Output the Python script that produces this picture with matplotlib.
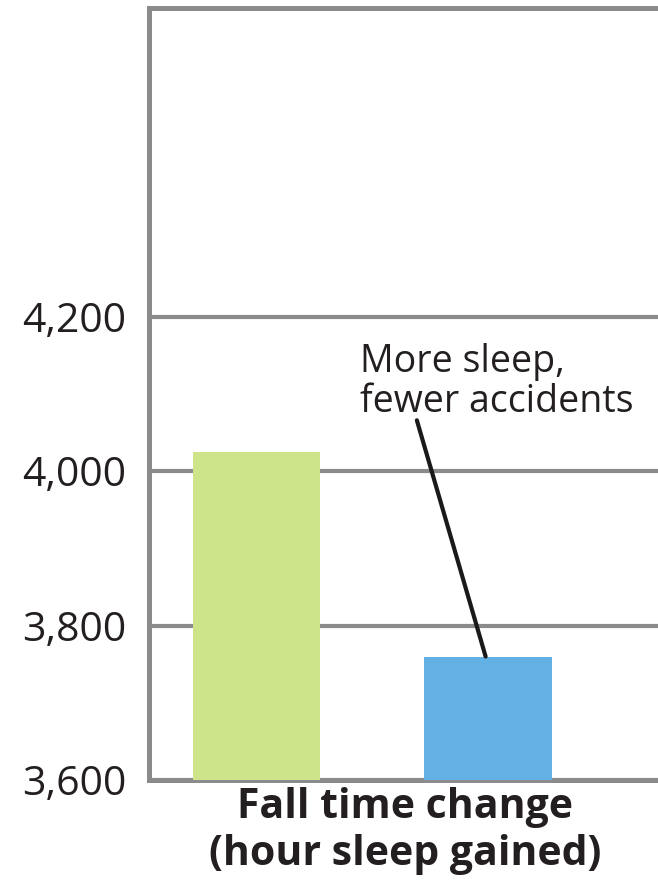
import matplotlib
matplotlib.use("Agg")
import matplotlib.pyplot as plt
from matplotlib.ticker import FuncFormatter

# accidents around the fall time change
groups = ["Before", "After"]
accidents = [4025, 3760]
bar_colors = ["#cde48b", "#63b0e5"]
y_ticks = [3600, 3800, 4000, 4200]
x_label = "Fall time change\n(hour sleep gained)"
note = "More sleep,\nfewer accidents"

plt.rcParams["font.family"] = ["Open Sans", "DejaVu Sans"]
grey = "#8b8b8b"
ink = "#231f20"

fig = plt.figure(figsize=(6.58, 8.83), dpi=100)
ax = fig.add_axes([0.2264, 0.1166, 0.778, 0.8743])

xs = list(range(len(groups)))
ax.bar(xs, accidents, width=0.55, color=bar_colors, zorder=3)

ax.set_ylim(3600, 4600)
ax.set_xlim(-0.464, 1.747)
ax.set_yticks(y_ticks)
ax.yaxis.set_major_formatter(FuncFormatter(lambda v, p: f"{int(v):,}"))
ax.set_xticks([])
ax.tick_params(axis="y", length=0, pad=16, labelsize=29.5, labelcolor=ink)

ax.grid(axis="y", color=grey, linewidth=3, zorder=1)
ax.set_axisbelow(True)
for side in ["left", "bottom", "top"]:
    ax.spines[side].set_color(grey)
    ax.spines[side].set_linewidth(3.6)
ax.spines["right"].set_visible(False)

ax.set_xlabel(x_label, fontsize=29.5, fontweight="bold", color=ink,
              labelpad=5, linespacing=1.2)

# callout for the second bar
ax.text(0.447, 4166, note, fontsize=27, color=ink, va="top", ha="left",
        linespacing=1.08)
ax.annotate("", xy=(0.99, accidents[1]), xytext=(0.693, 4066),
            arrowprops=dict(arrowstyle="-", color="#1a1a1a", lw=3,
                            shrinkA=0, shrinkB=0), zorder=4)

fig.savefig("out.png", dpi=100)
